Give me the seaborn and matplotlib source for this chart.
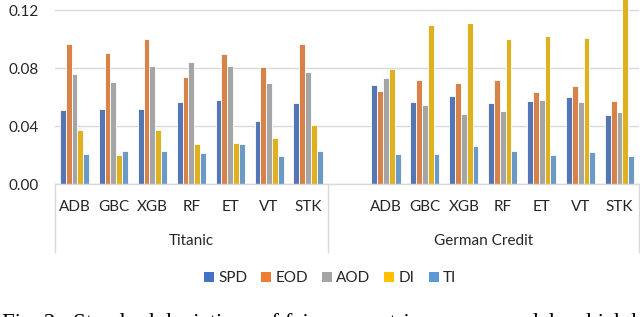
import pandas as pd
import matplotlib.pyplot as plt
import matplotlib.transforms as mtransforms
from matplotlib.patches import Patch
import seaborn as sns

# Models per dataset and the metrics shown
models = ['ADB', 'GBC', 'XGB', 'RF', 'ET', 'VT', 'STK']
datasets = ['Titanic', 'German Credit']
metrics = ['SPD', 'EOD', 'AOD', 'DI', 'TI']
colors = ['#4472C4', '#ED7D31', '#A5A5A5', '#FFC000', '#5B9BD5']

# Titanic standard deviations
titanic_spd = [0.0513, 0.0520, 0.0520, 0.0563, 0.0582, 0.0437, 0.0559]
titanic_eod = [0.0968, 0.0901, 0.1003, 0.0738, 0.0899, 0.0807, 0.0966]
titanic_aod = [0.0761, 0.0701, 0.0816, 0.0839, 0.0816, 0.0694, 0.0775]
titanic_di = [0.0370, 0.0200, 0.0370, 0.0274, 0.0285, 0.0317, 0.0410]
titanic_ti = [0.0205, 0.0225, 0.0225, 0.0214, 0.0274, 0.0193, 0.0225]

# German Credit standard deviations
german_spd = [0.0680, 0.0568, 0.0605, 0.0561, 0.0575, 0.0598, 0.0479]
german_eod = [0.0644, 0.0715, 0.0694, 0.0720, 0.0632, 0.0679, 0.0570]
german_aod = [0.0731, 0.0543, 0.0481, 0.0506, 0.0577, 0.0568, 0.0497]
german_di = [0.0796, 0.1094, 0.1108, 0.1003, 0.1019, 0.1005, 0.1300]
german_ti = [0.0210, 0.0210, 0.0260, 0.0230, 0.0198, 0.0223, 0.0193]

values = {
    'Titanic': [titanic_spd, titanic_eod, titanic_aod, titanic_di, titanic_ti],
    'German Credit': [german_spd, german_eod, german_aod, german_di, german_ti],
}

rows = []
for ds in datasets:
    for metric, series in zip(metrics, values[ds]):
        for model, v in zip(models, series):
            rows.append({'slot': f'{ds} {model}', 'Metric': metric, 'Value': v})
df = pd.DataFrame(rows)

# Titanic slots, one empty slot, then German Credit slots
order = [f'Titanic {m}' for m in models] + [' '] + [f'German Credit {m}' for m in models]

plt.rcParams['font.family'] = ['Lato', 'DejaVu Sans']
fig = plt.figure(figsize=(6.4, 3.17), dpi=100)
ax = fig.add_axes([55 / 640, 1 - 184 / 317, 584 / 640, 184 / 317])

sns.barplot(data=df, x='slot', y='Value', hue='Metric', order=order,
            hue_order=metrics, palette=colors, width=0.75, ax=ax,
            edgecolor='white', linewidth=0.6, legend=False)

ax.set_xlim(-0.5, 14.5)
ax.set_ylim(0, 0.1269)
ax.set_yticks([0, 0.04, 0.08, 0.12])
ax.set_yticklabels(['0.00', '0.04', '0.08', '0.12'], fontsize=11, color='#262626')
ax.grid(axis='y', color='#D9D9D9', linewidth=1)
ax.set_axisbelow(True)
for s in ['top', 'right', 'left']:
    ax.spines[s].set_visible(False)
ax.spines['bottom'].set_color('#D9D9D9')
ax.spines['bottom'].set_linewidth(1)
ax.tick_params(axis='both', length=0)
ax.tick_params(axis='y', pad=11.5)
ax.tick_params(axis='x', pad=16.3)

ax.set_xticks(range(15))
ax.set_xticklabels(models + [''] + models, fontsize=11, color='#262626')
for lbl in ax.get_xticklabels():
    lbl.set_va('center')
ax.set_xlabel('')
ax.set_ylabel('')

# Category box lines and dataset labels below the axis
trans = mtransforms.blended_transform_factory(ax.transData, ax.transAxes)
for x in [-0.5, 6.5, 14.5]:
    ax.plot([x, x], [0, -(252 - 184) / 184], transform=trans,
            color='#D9D9D9', linewidth=1, clip_on=False)
ax.text(3, -(240.7 - 184) / 184, 'Titanic', transform=trans,
        ha='center', va='center', fontsize=11, color='#262626')
ax.text(10.5, -(240.7 - 184) / 184, 'German Credit', transform=trans,
        ha='center', va='center', fontsize=11, color='#262626')

handles = [Patch(facecolor=c, label=m) for m, c in zip(metrics, colors)]
leg = fig.legend(handles=handles, loc='center', bbox_to_anchor=(330 / 640, 1 - 278.3 / 317),
                 ncol=5, frameon=False, fontsize=11, handlelength=0.65, handleheight=0.65,
                 handletextpad=0.3, columnspacing=0.9)
for t in leg.get_texts():
    t.set_color('#262626')

# Caption of the paper, cut off by the crop
fig.text(0.003, 1 - 313 / 317, 'Fig. 2:  Standard deviations of fairness metrics across models which h',
         ha='left', va='top', fontsize=16.5, family='Liberation Serif')

fig.savefig('out.png', dpi=100)
plt.close(fig)
